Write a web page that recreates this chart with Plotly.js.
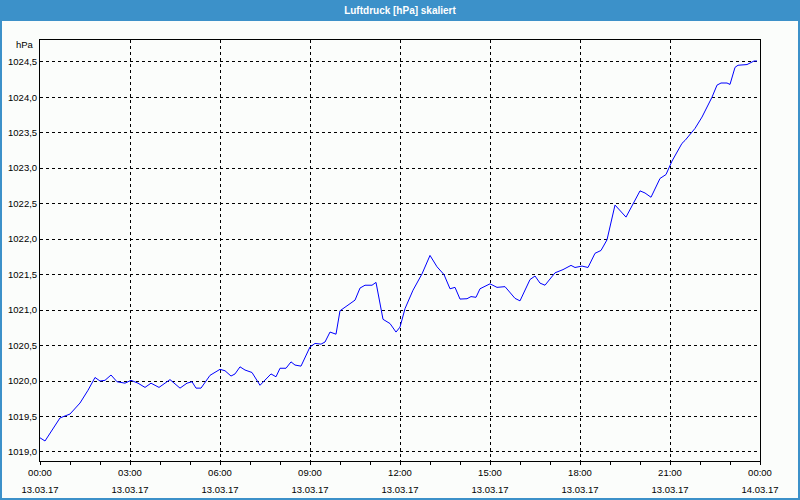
<!DOCTYPE html>
<html><head><meta charset="utf-8">
<script src="https://cdn.plot.ly/plotly-3.0.1.min.js"></script>
<style>html,body{margin:0;padding:0;background:#fbfdfb}#chart{width:800px;height:500px}</style>
</head><body><div id="chart"></div>
<script>
const titleText = "Luftdruck [hPa] skaliert";
const unitLabel = "hPa";
const day = "2017-03-13";
const clock = ["00:00","00:10","00:40","01:00","01:20","01:36","01:50","02:00","02:10","02:22","02:34","02:50","03:02","03:16","03:30","03:42","03:58","04:20","04:40","04:54","05:04","05:12","05:22","05:40","06:00","06:10","06:22","06:30","06:40","06:50","07:04","07:20","07:42","07:52","08:00","08:12","08:22","08:30","08:42","09:00","09:10","09:22","09:30","09:40","09:52","10:00","10:16","10:30","10:40","10:50","11:04","11:12","11:26","11:40","11:52","12:00","12:10","12:26","12:44","13:00","13:14","13:28","13:40","13:50","14:00","14:14","14:22","14:32","14:40","15:00","15:14","15:30","15:50","16:00","16:20","16:30","16:40","16:50","17:10","17:26","17:42","17:50","18:04","18:16","18:30","18:42","18:54","19:10","19:32","20:00","20:10","20:22","20:40","20:52","21:04","21:14","21:24","21:30","21:50","22:04","22:24","22:34","22:42","22:54","23:00","23:10","23:16","23:34","23:40","23:48","23:54"];
const pressure = [1019.20,1019.155,1019.48,1019.535,1019.69,1019.87,1020.05,1020.00,1020.01,1020.085,1019.99,1019.97,1020.01,1019.97,1019.91,1019.97,1019.91,1020.02,1019.90,1019.97,1019.99,1019.90,1019.90,1020.08,1020.165,1020.145,1020.07,1020.10,1020.20,1020.155,1020.12,1019.94,1020.10,1020.06,1020.18,1020.18,1020.27,1020.225,1020.21,1020.48,1020.53,1020.52,1020.55,1020.69,1020.66,1020.99,1021.07,1021.14,1021.31,1021.35,1021.35,1021.39,1020.87,1020.81,1020.69,1020.76,1021.02,1021.28,1021.51,1021.77,1021.61,1021.50,1021.30,1021.32,1021.155,1021.16,1021.19,1021.18,1021.30,1021.37,1021.32,1021.33,1021.165,1021.13,1021.43,1021.48,1021.38,1021.35,1021.525,1021.57,1021.63,1021.60,1021.62,1021.60,1021.80,1021.84,1021.99,1022.48,1022.31,1022.68,1022.65,1022.59,1022.855,1022.91,1023.10,1023.23,1023.35,1023.39,1023.56,1023.72,1024.00,1024.17,1024.20,1024.20,1024.18,1024.42,1024.45,1024.46,1024.48,1024.51,1024.51];
const tickTimes = ["2017-03-13 00:00","2017-03-13 03:00","2017-03-13 06:00","2017-03-13 09:00","2017-03-13 12:00","2017-03-13 15:00","2017-03-13 18:00","2017-03-13 21:00","2017-03-14 00:00"];
const tickTimeLabels = ["00:00","03:00","06:00","09:00","12:00","15:00","18:00","21:00","00:00"];
const tickDateLabels = ["13.03.17","13.03.17","13.03.17","13.03.17","13.03.17","13.03.17","13.03.17","13.03.17","14.03.17"];
const yTickVals = [1019.0,1019.5,1020.0,1020.5,1021.0,1021.5,1022.0,1022.5,1023.0,1023.5,1024.0,1024.5];
const yTickLabels = ["1019,0","1019,5","1020,0","1020,5","1021,0","1021,5","1022,0","1022,5","1023,0","1023,5","1024,0","1024,5"];

const times = clock.map(c => day + " " + c);
const W = 800, H = 500, ML = 40, MR = 40, MT = 40, MB = 39;
const PW = W - ML - MR, PH = H - MT - MB;
const px = v => (v - ML) / PW;
const py = v => (H - MB - v) / PH;
const BLUE = "#3c91c9";
const FONT = "Liberation Sans, Arial, sans-serif";
const bg = "#fbfdfb";

function rect(x0, y0, x1, y1) {
  return {type: "rect", xref: "paper", yref: "paper", x0: px(x0), x1: px(x1), y0: py(y0), y1: py(y1),
    fillcolor: BLUE, line: {width: 0}, layer: "below"};
}

const trace = {x: times, y: pressure, type: "scatter", mode: "lines",
  line: {color: "#0000ff", width: 1}, hoverinfo: "skip", xaxis: "x", yaxis: "y"};
const dummy = {x: [tickTimes[0], tickTimes[8]], y: [1019, 1019], type: "scatter", mode: "lines",
  line: {width: 0}, showlegend: false, hoverinfo: "skip", xaxis: "x2", yaxis: "y", opacity: 0};

const axisCommon = {
  type: "date", range: [tickTimes[0], tickTimes[8]], tickmode: "array", tickvals: tickTimes,
  tickfont: {family: FONT, size: 9.5, color: "#000"}, zeroline: false, fixedrange: true
};

const layout = {
  width: W, height: H, margin: {l: ML, r: MR, t: MT, b: MB, pad: 0},
  paper_bgcolor: bg, plot_bgcolor: bg, showlegend: false,
  title: {text: titleText, font: {family: FONT, size: 10, color: "#ffffff", weight: "bold"},
    xref: "container", x: 0.5, xanchor: "center", yref: "container", y: 1 - 10.5 / H, yanchor: "middle"},
  xaxis: Object.assign({}, axisCommon, {
    ticktext: tickTimeLabels, ticks: "outside", ticklen: 3, tickwidth: 1, tickcolor: "#000",
    showgrid: true, gridcolor: "#000", gridwidth: 1, griddash: "dot",
    showline: true, mirror: true, linecolor: "#000", linewidth: 1,
    minor: {tickmode: "linear", tick0: tickTimes[0], dtick: 3600000, ticks: "outside", ticklen: 3, tickcolor: "#000", showgrid: false}
  }),
  xaxis2: Object.assign({}, axisCommon, {
    ticktext: tickDateLabels, overlaying: "x", anchor: "y", side: "bottom", ticks: "",
    showgrid: false, showline: false, ticklabelstandoff: 21
  }),
  yaxis: {range: [1018.873, 1024.806], tickmode: "array", tickvals: yTickVals, ticktext: yTickLabels,
    ticks: "", showgrid: true, gridcolor: "#000", gridwidth: 1, griddash: "dot",
    showline: true, mirror: true, linecolor: "#000", linewidth: 1, zeroline: false,
    tickfont: {family: FONT, size: 9.5, color: "#000"}, fixedrange: true},
  annotations: [{text: unitLabel, xref: "paper", yref: "paper", x: px(36), y: py(44),
    xanchor: "right", yanchor: "middle", showarrow: false, font: {family: FONT, size: 9.5, color: "#000"}}],
  shapes: [rect(0, 0, 800, 21), rect(0, 0, 2, 500), rect(798, 0, 800, 500), rect(0, 498, 800, 500)]
};

Plotly.newPlot("chart", [trace, dummy], layout, {displayModeBar: false, staticPlot: true});
</script></body></html>
